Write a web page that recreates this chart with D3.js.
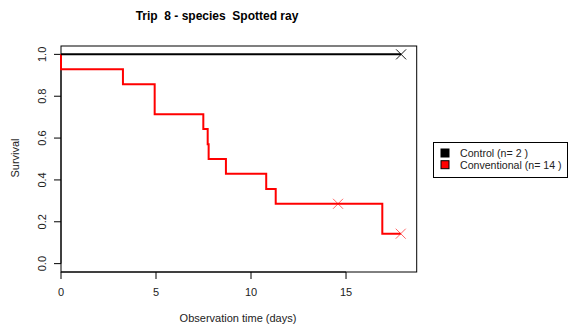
<!DOCTYPE html>
<html><head><meta charset="utf-8">
<script src="https://cdn.jsdelivr.net/npm/d3@7"></script>
<style>body{margin:0;background:#fff}svg{display:block;font-family:"Liberation Sans",Arial,sans-serif}text{white-space:pre}</style>
</head><body><svg id="c" width="573" height="326"></svg>
<script>
const title = "Trip  8 - species  Spotted ray";
const xLabel = "Observation time (days)";
const yLabel = "Survival";
const xTicks = [0, 5, 10, 15];
const yTicks = [0, 0.2, 0.4, 0.6, 0.8, 1.0];
const seriesNames = ["Control (n= 2 )", "Conventional (n= 14 )"];
const seriesColors = ["#000000", "#ff0000"];
const controlTimes = [0, 0, 17.9];
const controlSurv = [1, 1, 1];
const controlCensorTimes = [17.9];
const controlCensorSurv = [1];
const convTimes = [0, 0, 3.26, 4.93, 7.49, 7.72, 7.77, 8.68, 10.8, 11.3, 16.91, 17.88];
const convSurv = [1, 0.929, 0.857, 0.714, 0.643, 0.571, 0.5, 0.429, 0.357, 0.286, 0.143, 0.143];
const convCensorTimes = [14.58, 17.88];
const convCensorSurv = [0.286, 0.143];

const svg = d3.select("#c");
const x = d3.scaleLinear().domain([0, 18.72]).range([61, 416.7]);
const y = d3.scaleLinear().domain([-0.04, 1.04]).range([272, 46]);
const tc = "#222";

svg.append("rect").attr("x", 61).attr("y", 46).attr("width", 416.7-61).attr("height", 272-46)
  .attr("fill", "none").attr("stroke", "#000").attr("stroke-width", 1);

const xa = svg.append("g");
xa.append("line").attr("x1", x(0)).attr("x2", x(15)).attr("y1", 272).attr("y2", 272).attr("stroke", "#000");
xTicks.forEach(t => {
  xa.append("line").attr("x1", x(t)).attr("x2", x(t)).attr("y1", 272).attr("y2", 279).attr("stroke", "#000");
  xa.append("text").attr("x", x(t)).attr("y", 296).attr("text-anchor", "middle")
    .attr("font-size", 11).attr("fill", tc).text(t);
});
const ya = svg.append("g");
ya.append("line").attr("x1", 61).attr("x2", 61).attr("y1", y(0)).attr("y2", y(1)).attr("stroke", "#000");
yTicks.forEach(t => {
  ya.append("line").attr("x1", 54).attr("x2", 61).attr("y1", y(t)).attr("y2", y(t)).attr("stroke", "#000");
  ya.append("text").attr("transform", `translate(45.5,${y(t)}) rotate(-90)`).attr("text-anchor", "middle")
    .attr("font-size", 11).attr("fill", tc).text(t.toFixed(1));
});

svg.append("text").attr("x", 217).attr("y", 20).attr("text-anchor", "middle").attr("font-size", 12)
  .attr("font-weight", "bold").attr("fill", "#000").text(title);
svg.append("text").attr("x", 238).attr("y", 322).attr("text-anchor", "middle").attr("font-size", 11)
  .attr("fill", tc).text(xLabel);
svg.append("text").attr("transform", "translate(19,158) rotate(-90)").attr("text-anchor", "middle")
  .attr("font-size", 11).attr("fill", tc).text(yLabel);

const line = d3.line().x(d => x(d[0])).y(d => y(d[1])).curve(d3.curveStepAfter);
function drawSeries(times, surv, ct, cs, color) {
  svg.append("path").attr("d", line(times.map((t, i) => [t, surv[i]])))
    .attr("fill", "none").attr("stroke", color).attr("stroke-width", 2);
  ct.forEach((t, i) => {
    const cx = x(t), cy = y(cs[i]), s = 5;
    svg.append("path").attr("d", `M${cx-s},${cy-s}L${cx+s},${cy+s}M${cx-s},${cy+s}L${cx+s},${cy-s}`)
      .attr("stroke", color).attr("stroke-width", 1).attr("opacity", color === "#000000" ? 0.9 : 0.6);
  });
}
drawSeries(convTimes, convSurv, convCensorTimes, convCensorSurv, seriesColors[1]);
drawSeries(controlTimes, controlSurv, controlCensorTimes, controlCensorSurv, seriesColors[0]);

const lg = svg.append("g");
lg.append("rect").attr("x", 433.5).attr("y", 142.5).attr("width", 134).attr("height", 35)
  .attr("fill", "#fff").attr("stroke", "#000");
seriesNames.forEach((n, i) => {
  const cy = 153 + i * 11.7;
  lg.append("rect").attr("x", 441).attr("y", cy - 4).attr("width", 8).attr("height", 8)
    .attr("fill", seriesColors[i]).attr("stroke", "#000").attr("stroke-width", 1);
  lg.append("text").attr("x", 460).attr("y", cy + 4).attr("font-size", 10.6).attr("fill", tc).text(n);
});
</script></body></html>
